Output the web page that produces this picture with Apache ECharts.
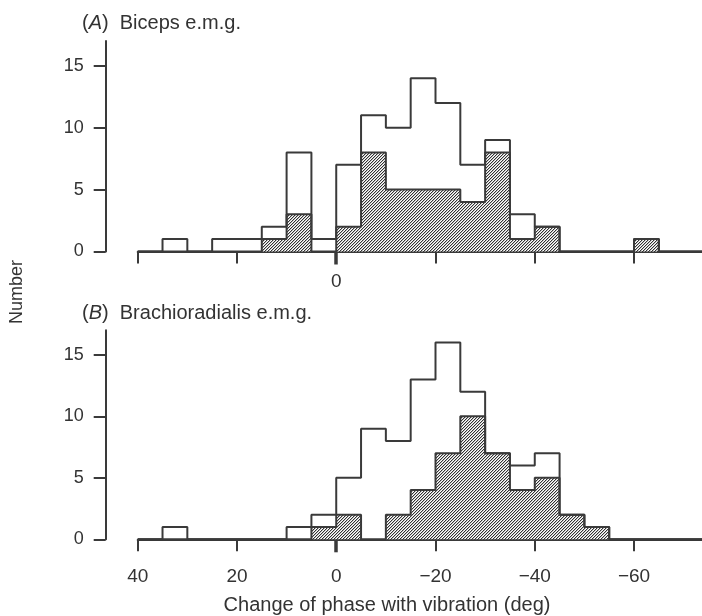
<!DOCTYPE html>
<html>
<head>
<meta charset="utf-8">
<script src="https://cdn.jsdelivr.net/npm/echarts@6/dist/echarts.min.js"></script>
<style>
  html, body { margin: 0; padding: 0; background: #fff; }
  #chart { width: 702px; height: 616px; }
</style>
</head>
<body>
<div id="chart"></div>
<script>
// bins of 5 deg, listed by their upper edge (axis runs 40 -> -75)
const binStarts = [40, 35, 30, 25, 20, 15, 10, 5, 0, -5, -10, -15, -20, -25, -30, -35, -40, -45, -50, -55, -60, -65, -70];
const binEnd = -75;

// (A) Biceps e.m.g.
const bicepsAll     = [0, 1, 0, 1, 1, 2, 8, 1, 7, 11, 10, 14, 12, 7, 9, 3, 2, 0, 0, 0, 1, 0, 0];
const bicepsHatched = [0, 0, 0, 0, 0, 1, 3, 0, 2, 8, 5, 5, 5, 4, 8, 1, 2, 0, 0, 0, 1, 0, 0];

// (B) Brachioradialis e.m.g.
const brachioAll     = [0, 1, 0, 0, 0, 0, 1, 2, 5, 9, 8, 13, 16, 12, 7, 6, 7, 2, 1, 0, 0, 0, 0];
const brachioHatched = [0, 0, 0, 0, 0, 0, 0, 1, 2, 0, 2, 4, 7, 10, 7, 4, 5, 2, 1, 0, 0, 0, 0];

const yTicks = [0, 5, 10, 15];
const zeroTick = [0];

const ink = '#3a3a3a';
const font = 'Liberation Sans, Arial, sans-serif';

// diagonal hatch pattern, "/" stripes about 3px apart
function makeHatch() {
  const n = 3;
  const c = document.createElement('canvas');
  c.width = n; c.height = n;
  const ctx = c.getContext('2d');
  const img = ctx.createImageData(n, n);
  for (let y = 0; y < n; y++) {
    for (let x = 0; x < n; x++) {
      const k = (y * n + x) * 4;
      const r = (x + y) % n;
      const g = r === n - 1 ? 50 : (r === 0 ? 190 : 255);
      img.data[k] = g; img.data[k + 1] = g; img.data[k + 2] = g;
      img.data[k + 3] = 255;
    }
  }
  ctx.putImageData(img, 0, 0);
  return c;
}
const hatch = makeHatch();

function steps(vals) {
  const pts = [[binStarts[0], 0]];
  binStarts.forEach((x, i) => pts.push([x, vals[i]]));
  pts.push([binEnd, 0]);
  return pts;
}

const minus = v => (v < 0 ? '\u2212' + Math.abs(v) : String(v));

function xAxes(gridIndex, showLabels) {
  return [
    {
      gridIndex, type: 'value', position: 'bottom', inverse: true, min: -80, max: 40, interval: 20,
      axisLine: { onZero: false, lineStyle: { color: ink, width: 2 } },
      axisTick: { length: 12, lineStyle: { color: ink, width: 2 } },
      axisLabel: {
        show: showLabels, margin: 28, color: '#333', fontSize: 19, fontFamily: font,
        formatter: minus
      },
      splitLine: { show: false }
    },
    {
      // the bold tick at zero
      gridIndex, type: 'value', position: 'bottom', inverse: true, min: -80, max: 40,
      axisLine: { show: false, onZero: false },
      axisTick: { length: 13, customValues: zeroTick, lineStyle: { color: ink, width: 3.5 } },
      axisLabel: {
        show: !showLabels, margin: 21, customValues: zeroTick, color: '#333', fontSize: 19, fontFamily: font
      },
      splitLine: { show: false }
    }
  ];
}

function yAxis(gridIndex) {
  return {
    gridIndex, type: 'value', position: 'left', min: 0, max: 17, offset: 32,
    axisLine: { show: true, onZero: false, lineStyle: { color: ink, width: 2 } },
    axisTick: { show: true, length: 12, customValues: yTicks, lineStyle: { color: ink, width: 2 } },
    axisLabel: { customValues: yTicks, margin: 22, color: '#333', fontSize: 18, fontFamily: font },
    splitLine: { show: false }
  };
}

function hist(xAxisIndex, yAxisIndex, vals, hatched) {
  return {
    type: 'line', xAxisIndex, yAxisIndex, data: steps(vals), step: 'end',
    showSymbol: false, silent: true, z: hatched ? 3 : 4,
    lineStyle: { color: ink, width: 2 },
    areaStyle: hatched ? { color: { image: hatch, repeat: 'repeat' }, opacity: 1 } : undefined
  };
}

const titleStyle = {
  fontSize: 20, fontWeight: 'normal', color: '#333', fontFamily: font,
  rich: { it: { fontStyle: 'italic', fontSize: 20, color: '#333', fontFamily: font } }
};

const chart = echarts.init(document.getElementById('chart'));
chart.setOption({
  animation: false,
  backgroundColor: '#fff',
  title: [
    { text: '({it|A})  Biceps e.m.g.', left: 77, top: 8, textStyle: titleStyle },
    { text: '({it|B})  Brachioradialis e.m.g.', left: 77, top: 298, textStyle: titleStyle }
  ],
  graphic: [
    {
      type: 'text', x: 17, y: 292, rotation: Math.PI / 2,
      style: { text: 'Number', fontSize: 18, fontFamily: font, fill: '#333', align: 'center', verticalAlign: 'middle' }
    },
    {
      type: 'text', x: 387, y: 605,
      style: { text: 'Change of phase with vibration (deg)', fontSize: 20, fontFamily: font, fill: '#333', align: 'center', verticalAlign: 'middle' }
    }
  ],
  grid: [
    { left: 137.7, top: 41, width: 595.6, height: 210.5, outerBoundsMode: 'none', containLabel: false },
    { left: 137.7, top: 330.3, width: 595.6, height: 209, outerBoundsMode: 'none', containLabel: false }
  ],
  xAxis: [...xAxes(0, false), ...xAxes(1, true)],
  yAxis: [yAxis(0), yAxis(1)],
  series: [
    hist(0, 0, bicepsHatched, true),
    hist(0, 0, bicepsAll, false),
    hist(2, 1, brachioHatched, true),
    hist(2, 1, brachioAll, false)
  ]
});
</script>
</body>
</html>
